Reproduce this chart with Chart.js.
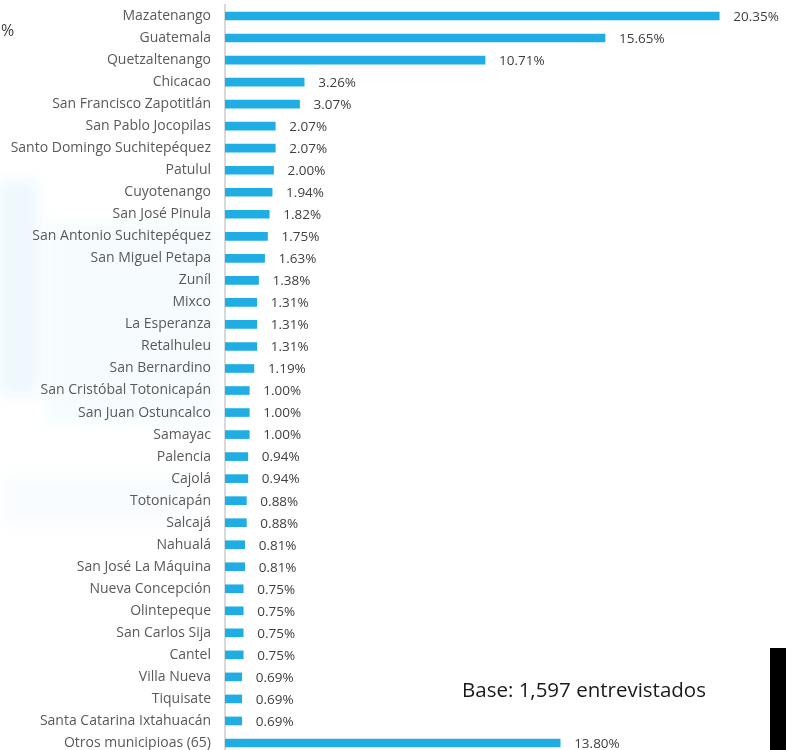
<!DOCTYPE html>
<html>
<head>
<meta charset="utf-8">
<script src="https://cdn.jsdelivr.net/npm/chart.js@4"></script>
<style>
  html, body { margin: 0; padding: 0; background: #fff; overflow: hidden; }
  #wrap { position: relative; width: 786px; height: 756px; }
</style>
</head>
<body>
<div id="wrap"><canvas id="municipiosChart"></canvas></div>
<script>
const municipios = [
  "Mazatenango", "Guatemala", "Quetzaltenango", "Chicacao", "San Francisco Zapotitlán",
  "San Pablo Jocopilas", "Santo Domingo Suchitepéquez", "Patulul", "Cuyotenango",
  "San José Pinula", "San Antonio Suchitepéquez", "San Miguel Petapa", "Zuníl", "Mixco",
  "La Esperanza", "Retalhuleu", "San Bernardino", "San Cristóbal Totonicapán",
  "San Juan Ostuncalco", "Samayac", "Palencia", "Cajolá", "Totonicapán", "Salcajá",
  "Nahualá", "San José La Máquina", "Nueva Concepción", "Olintepeque", "San Carlos Sija",
  "Cantel", "Villa Nueva", "Tiquisate", "Santa Catarina Ixtahuacán", "Otros municipioas (65)"
];
const porcentajes = [
  20.35, 15.65, 10.71, 3.26, 3.07, 2.07, 2.07, 2.00, 1.94, 1.82, 1.75, 1.63, 1.38, 1.31,
  1.31, 1.31, 1.19, 1.00, 1.00, 1.00, 0.94, 0.94, 0.88, 0.88, 0.81, 0.81, 0.75, 0.75,
  0.75, 0.75, 0.69, 0.69, 0.69, 13.80
];
const xMax = 23.1;

// faint, blurred background blocks behind the labels
const fondo = {
  id: "fondo",
  beforeDraw(chart) {
    const ctx = chart.ctx;
    ctx.save();
    ctx.filter = "blur(7px)";
    ctx.fillStyle = "rgba(205, 235, 248, 0.35)";
    ctx.fillRect(0, 180, 38, 215);
    ctx.fillStyle = "rgba(215, 240, 250, 0.22)";
    ctx.fillRect(45, 220, 175, 205);
    ctx.fillStyle = "rgba(220, 240, 250, 0.18)";
    ctx.fillRect(0, 475, 190, 50);
    ctx.restore();
  }
};

// value labels next to each bar, plus the loose texts around the chart
const extras = {
  id: "extras",
  afterDatasetsDraw(chart) {
    const ctx = chart.ctx;
    const meta = chart.getDatasetMeta(0);
    ctx.save();
    ctx.font = "13.5px 'Open Sans'";
    ctx.fillStyle = "#404040";
    ctx.textAlign = "left";
    ctx.textBaseline = "middle";
    meta.data.forEach((bar, i) => {
      ctx.fillText(porcentajes[i].toFixed(2) + "%", bar.x + 14, bar.y + 1);
    });
    ctx.font = "16px 'Open Sans'";
    ctx.fillText("%", 1, 31);
    ctx.font = "20.5px 'Open Sans'";
    ctx.fillStyle = "#1a1a1a";
    ctx.fillText("Base: 1,597 entrevistados", 462, 691);
    ctx.fillStyle = "#000";
    ctx.fillRect(770, 648, 16, 108);
    ctx.restore();
  }
};

new Chart(document.getElementById("municipiosChart").getContext("2d"), {
  type: "bar",
  data: {
    labels: municipios,
    datasets: [{
      data: porcentajes,
      backgroundColor: "#1fade4",
      barThickness: 8
    }]
  },
  options: {
    indexAxis: "y",
    responsive: true,
    maintainAspectRatio: false,
    animation: false,
    layout: { padding: { top: 5, bottom: 2, left: 0, right: 0 } },
    plugins: {
      legend: { display: false },
      tooltip: { enabled: false }
    },
    scales: {
      x: { display: false, min: 0, max: xMax },
      y: {
        afterFit(scale) {
          scale.width = 225;
          scale.paddingTop = 0;
          scale.paddingBottom = 0;
        },
        grid: { display: false, drawTicks: false },
        border: { display: true, color: "#d9d9d9", width: 2 },
        ticks: {
          padding: 14,
          color: "#595959",
          font: { family: "'Open Sans'", size: 14 }
        }
      }
    }
  },
  plugins: [fondo, extras]
});
</script>
</body>
</html>
